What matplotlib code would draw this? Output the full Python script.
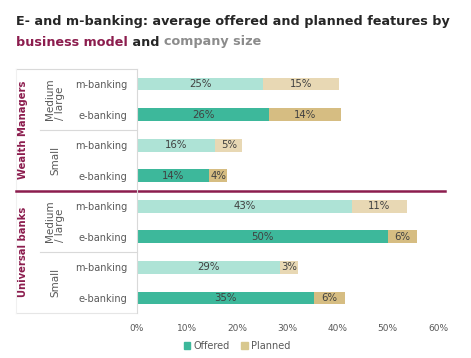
import matplotlib
matplotlib.use("Agg")
import matplotlib.pyplot as plt
import matplotlib.transforms as mtransforms
from matplotlib.patches import Patch

# ---------------- data ----------------
groups = ["Wealth Managers", "Universal banks"]
sizes = ["Medium\n/ large", "Small"]
channels = ["m-banking", "e-banking"]
offered = [25.1, 26.3, 15.6, 14.3, 42.8, 50.0, 28.6, 35.3]
planned = [15.1, 14.4, 5.4, 3.7, 11.0, 5.9, 3.4, 6.2]
xticks = [0, 10, 20, 30, 40, 50, 60]

# ---------------- style ----------------
W, H = 471, 358
maroon = "#8c1d4e"
grey_line = "#d9d9d9"
txt = "#595959"
off_col = {"m-banking": "#aee3d6", "e-banking": "#3db89b"}
pln_col = {"m-banking": "#e8d8b4", "e-banking": "#d6bd82"}
tsize = 9.2

fig = plt.figure(figsize=(W / 100, H / 100), dpi=100)
fig.patch.set_facecolor("white")

def fx(px):
    return px / W

def fy(py):
    return 1 - py / H

ax = fig.add_axes([fx(137), fy(313.3), fx(438) - fx(137), fy(68.7) - fy(313.3)])

rows = []
for g in groups:
    for s in sizes:
        for c in channels:
            rows.append((g, s, c))
ypos = list(range(len(rows)))

for i, (g, s, c) in enumerate(rows):
    ax.barh(i, offered[i], height=0.42, color=off_col[c], edgecolor="none")
    ax.barh(i, planned[i], left=offered[i], height=0.42, color=pln_col[c], edgecolor="none")
    ax.text(offered[i] / 2, i, f"{round(offered[i])}%", ha="center", va="center",
            fontsize=7.3, color="#404040")
    ax.text(offered[i] + planned[i] / 2, i, f"{round(planned[i])}%", ha="center",
            va="center", fontsize=7.3, color="#404040")

ax.set_xlim(0, 60)
ax.set_ylim(len(rows) - 0.5, -0.5)
ax.set_xticks(xticks)
ax.set_xticklabels([f"{t}%" for t in xticks], fontsize=6.5, color=txt)
ax.set_yticks(ypos)
ax.set_yticklabels([r[2] for r in rows], fontsize=7, color=txt)
ax.tick_params(axis="both", length=0)
ax.tick_params(axis="y", pad=7)
ax.tick_params(axis="x", pad=8)
for sp in ["top", "right", "bottom"]:
    ax.spines[sp].set_visible(False)
ax.spines["left"].set_color(grey_line)
ax.spines["left"].set_linewidth(0.8)

# table lines for the left labels
tr = mtransforms.blended_transform_factory(fig.transFigure, ax.transData)
n = len(rows)
ax.plot([fx(16), fx(137)], [-0.5, -0.5], color=grey_line, lw=0.8, transform=tr, clip_on=False)
ax.plot([fx(16), fx(137)], [n - 0.5, n - 0.5], color="#e6e6e6", lw=0.8, transform=tr, clip_on=False)
ax.plot([fx(16), fx(16)], [-0.5, n - 0.5], color="#f0f0f0", lw=0.8, transform=tr, clip_on=False)
for k in range(len(groups)):
    base = k * len(sizes) * len(channels)
    mid = base + len(channels) - 0.5
    ax.plot([fx(40), fx(137)], [mid, mid], color=grey_line, lw=0.8, transform=tr, clip_on=False)
    for j, s in enumerate(sizes):
        yc = base + j * len(channels) + (len(channels) - 1) / 2
        ax.text(fx(55), yc, s, rotation=90, ha="center", va="center", fontsize=7.5,
                color=txt, transform=tr, linespacing=1.0, multialignment="left")
    yc = base + (len(sizes) * len(channels) - 1) / 2
    ax.text(fx(23), yc, groups[k], rotation=90, ha="center", va="center", fontsize=7.2,
            fontweight="bold", color=maroon, transform=tr)

sep = len(sizes) * len(channels) - 0.5
ax.plot([fx(16), fx(445)], [sep, sep], color=maroon, lw=1.8, transform=tr, clip_on=False)

# title
fig.text(fx(16), fy(22), "E- and m-banking: average offered and planned features by",
         fontsize=tsize, fontweight="bold", color="#262626", va="center")
t1 = fig.text(fx(16), fy(42), "business model", fontsize=tsize, fontweight="bold",
              color=maroon, va="center")
a2 = ax.annotate(" and ", xy=(1, 0), xycoords=t1, va="bottom", fontsize=tsize,
                 fontweight="bold", color="#262626")
ax.annotate("company size", xy=(1, 0), xycoords=a2, va="bottom", fontsize=tsize,
            fontweight="bold", color="#8c8c8c")

# legend
handles = [Patch(color=off_col["e-banking"], label="Offered"),
           Patch(color="#d8c88e", label="Planned")]
fig.legend(handles=handles, loc="center", bbox_to_anchor=(fx(237), fy(346)), ncol=2,
           frameon=False, fontsize=7, handlelength=0.7, handleheight=0.7,
           handletextpad=0.3, columnspacing=1.2, labelcolor=txt)

fig.savefig("out.png", dpi=100, facecolor="white")
